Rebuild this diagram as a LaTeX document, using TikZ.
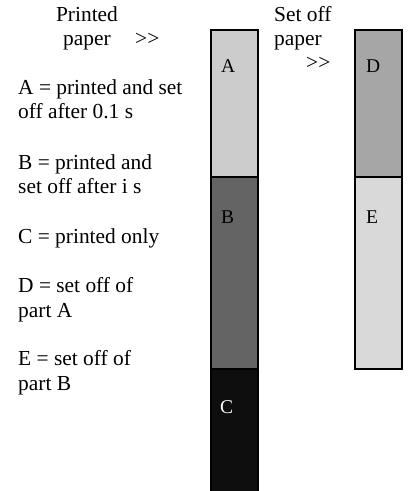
\documentclass[tikz,border=0pt]{standalone}
\usepackage{fontspec}
\setmainfont{Liberation Serif}
\usetikzlibrary{positioning}

\definecolor{partA}{HTML}{CCCCCC}
\definecolor{partB}{HTML}{646464}
\definecolor{partC}{HTML}{0E0E0E}
\definecolor{partD}{HTML}{A6A6A6}
\definecolor{partE}{HTML}{D9D9D9}

\begin{document}
\begin{tikzpicture}[x=1bp,y=-1bp,
    txt/.style={inner sep=0pt,anchor=base west,align=left,font=\fontsize{21.4bp}{24.5bp}\selectfont},
    lbl/.style={inner sep=0pt,anchor=base west,font=\fontsize{19.5bp}{22bp}\selectfont}]
    \useasboundingbox (0,0) rectangle (409,491);
    \begin{scope}[line width=2bp] % Printed paper strip
        \filldraw[fill=partA] (211,30) rectangle (258,177);
        \filldraw[fill=partB] (211,177) rectangle (258,369);
        \filldraw[fill=partC] (211,369) rectangle (258,495);
    \end{scope}
    \begin{scope}[line width=2bp] % Set off paper strip
        \filldraw[fill=partD] (355,30) rectangle (402,177);
        \filldraw[fill=partE] (355,177) rectangle (402,369);
    \end{scope}

% Part labels inside the strips
\node[lbl] (lA) at (221,73) {A};
\node[lbl] (lB) at (221,223) {B};
\node[lbl,text=white] (lC) at (220,413) {C};
\node[lbl] (lD) at (366,73) {D};
\node[lbl] (lE) at (366,223) {E};

% Headings over the strips (base anchor sits on the last line)
\node[txt,align=center,anchor=base] (printed) at (87,46) {Printed\\paper};
\node[txt] (arrL) at (135,46) {>{}>};
\node[txt] (setoff) at (274,46) {Set off\\paper};
\node[txt] (arrR) at (306,70) {>{}>};

% Key to the parts
\node[txt] (keyA) at (18,119) {A = printed and set\\off after 0.1 s};
\node[txt] (keyB) at (18,194) {B = printed and\\set off after i s};
\node[txt] (keyC) at (18,243) {C = printed only};
\node[txt] (keyD) at (18,317) {D = set off of\\part A};
\node[txt] (keyE) at (18,390) {E = set off of\\part B};

\end{tikzpicture}
\end{document}
